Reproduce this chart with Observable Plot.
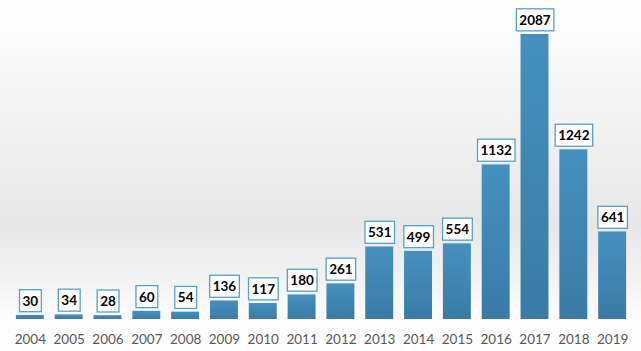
<!DOCTYPE html>
<html>
<head>
<meta charset="utf-8">
<script src="https://cdn.jsdelivr.net/npm/d3@7"></script>
<script src="https://cdn.jsdelivr.net/npm/@observablehq/plot@0.6"></script>
<style>
  html, body { margin: 0; padding: 0; background: #fff; }
  #chart svg { display: block; }
</style>
</head>
<body>
<div id="chart"></div>
<script>
const years = ["2004","2005","2006","2007","2008","2009","2010","2011","2012","2013","2014","2015","2016","2017","2018","2019"];
const counts = [30, 34, 28, 60, 54, 136, 117, 180, 261, 531, 499, 554, 1132, 2087, 1242, 641];

const data = years.map((year, i) => ({year, count: counts[i]}));

const chart = Plot.plot({
  width: 641,
  height: 351,
  marginTop: 34,
  marginBottom: 32,
  marginLeft: 5,
  marginRight: 4,
  style: {
    background: "linear-gradient(to bottom, #ffffff 0%, #f4f4f4 30%, #e7e7e7 64%, #f3f3f3 80%, #fcfcfc 90%, #ffffff 100%)",
    fontFamily: "Lato, 'Open Sans', sans-serif",
    overflow: "visible"
  },
  x: {domain: years, padding: 0.28, round: false, label: null},
  y: {domain: [0, 2087], axis: null},
  marks: [
    () => {
      const ns = "http://www.w3.org/2000/svg";
      const defs = document.createElementNS(ns, "defs");
      defs.innerHTML = `<linearGradient id="barGrad" x1="0" y1="0" x2="0" y2="1">
        <stop offset="0" stop-color="#4690bf"/>
        <stop offset="1" stop-color="#3a7ba6"/>
      </linearGradient>`;
      return defs;
    },
    Plot.barY(data, {x: "year", y: "count", fill: "url(#barGrad)"}),
    Plot.text(data, {
      x: "year", y: "count", text: d => String(d.count),
      dy: -14, lineAnchor: "middle", fontSize: 13.5, fontWeight: "bold",
      fill: "#000", className: "vlabels"
    }),
    Plot.axisX({tickSize: 0, tickPadding: 15, fontSize: 13.5, fill: "#595959", label: null})
  ]
});

document.getElementById("chart").appendChild(chart);

// add outlined boxes behind value labels
const ns = "http://www.w3.org/2000/svg";
chart.querySelectorAll("g.vlabels text").forEach(t => {
  const b = t.getBBox();
  const padX = 3;
  const h = 22;
  const cy = b.y + b.height / 2;
  const r = document.createElementNS(ns, "rect");
  r.setAttribute("x", b.x - padX);
  r.setAttribute("y", cy - h / 2);
  r.setAttribute("width", b.width + 2 * padX);
  r.setAttribute("height", h);
  r.setAttribute("fill", "#ffffff");
  r.setAttribute("stroke", "#5a9fc6");
  r.setAttribute("stroke-width", "1.3");
  if (t.getAttribute("transform")) r.setAttribute("transform", t.getAttribute("transform"));
  t.parentNode.insertBefore(r, t);
});
</script>
</body>
</html>
